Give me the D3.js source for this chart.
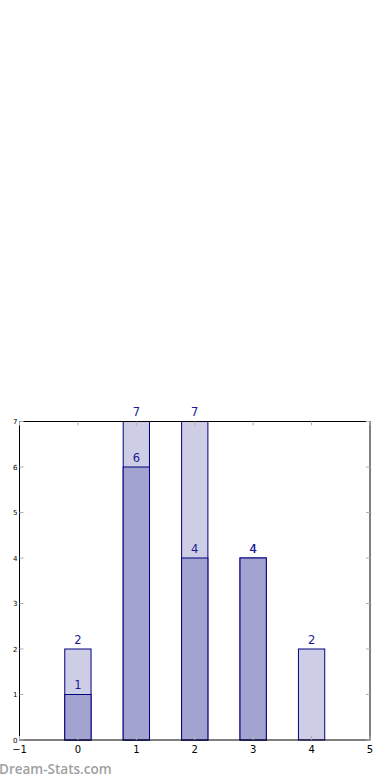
<!DOCTYPE html>
<html>
<head>
<meta charset="utf-8">
<script src="https://cdn.jsdelivr.net/npm/d3@7"></script>
<style>
  body { margin: 0; background: #fff; }
  svg { display: block; font-family: "DejaVu Sans", sans-serif; }
</style>
</head>
<body>
<svg id="chart" width="390" height="780"></svg>
<script>
// data
const categories = [0, 1, 2, 3, 4];
const totals = [2, 7, 7, 4, 2];
const subset = [1, 6, 4, 4, 0];
const xTicks = [-1, 0, 1, 2, 3, 4, 5];
const yTicks = [0, 1, 2, 3, 4, 5, 6, 7];

const svg = d3.select('#chart');
const margin = { left: 19.5, right: 20, top: 421.5, bottom: 40 };
const width = 390, height = 780;

const x = d3.scaleLinear().domain([-1, 5]).range([margin.left, width - margin.right]);
const y = d3.scaleLinear().domain([0, 7]).range([height - margin.bottom, margin.top]);
const barW = x(0.45) - x(0);

const g = svg.append('g');

// light bars (totals)
g.selectAll('.bar-total')
  .data(categories)
  .enter()
  .append('rect')
  .attr('class', 'bar-total')
  .attr('x', (d) => x(d) - barW / 2)
  .attr('y', (d, i) => y(totals[i]))
  .attr('width', barW)
  .attr('height', (d, i) => y(0) - y(totals[i]))
  .attr('fill', '#cdcde5')
  .attr('stroke', '#000080')
  .attr('stroke-width', 1);

// dark bars (subset)
g.selectAll('.bar-sub')
  .data(categories.filter((d, i) => subset[i] > 0))
  .enter()
  .append('rect')
  .attr('class', 'bar-sub')
  .attr('x', (d) => x(d) - barW / 2)
  .attr('y', (d) => y(subset[d]))
  .attr('width', barW)
  .attr('height', (d) => y(0) - y(subset[d]))
  .attr('fill', '#a3a3d2')
  .attr('stroke', '#000080')
  .attr('stroke-width', 1);

// value labels
const labels = [];
categories.forEach((c, i) => {
  labels.push({ c: c, v: totals[i] });
  if (subset[i] > 0) labels.push({ c: c, v: subset[i] });
});
g.selectAll('.val')
  .data(labels)
  .enter()
  .append('text')
  .attr('class', 'val')
  .attr('x', (d) => x(d.c))
  .attr('y', (d) => y(d.v) - 5.5)
  .attr('text-anchor', 'middle')
  .attr('font-size', 11.5)
  .attr('fill', '#1a1a99')
  .text((d) => d.v);

// axes frame
g.append('rect')
  .attr('x', x(-1))
  .attr('y', y(7))
  .attr('width', x(5) - x(-1))
  .attr('height', y(0) - y(7))
  .attr('fill', 'none')
  .attr('stroke', '#000')
  .attr('stroke-width', 1);

// ticks (inside, on all sides)
const tickCol = '#b0b0b0';
g.selectAll('.xt-b').data(xTicks).enter().append('line')
  .attr('x1', (d) => x(d)).attr('x2', (d) => x(d))
  .attr('y1', y(0)).attr('y2', y(0) - 4)
  .attr('stroke', tickCol);
g.selectAll('.xt-t').data(xTicks).enter().append('line')
  .attr('x1', (d) => x(d)).attr('x2', (d) => x(d))
  .attr('y1', y(7)).attr('y2', y(7) + 4)
  .attr('stroke', tickCol);
g.selectAll('.yt-l').data(yTicks).enter().append('line')
  .attr('x1', x(-1)).attr('x2', x(-1) + 4)
  .attr('y1', (d) => y(d)).attr('y2', (d) => y(d))
  .attr('stroke', tickCol);
g.selectAll('.yt-r').data(yTicks).enter().append('line')
  .attr('x1', x(5)).attr('x2', x(5) - 4)
  .attr('y1', (d) => y(d)).attr('y2', (d) => y(d))
  .attr('stroke', tickCol);

// tick labels
g.selectAll('.xl').data(xTicks).enter().append('text')
  .attr('x', (d) => x(d))
  .attr('y', y(0) + 13)
  .attr('text-anchor', 'middle')
  .attr('font-size', 10)
  .attr('fill', '#000')
  .text((d) => d < 0 ? '\u2212' + Math.abs(d) : d);
g.selectAll('.yl').data(yTicks).enter().append('text')
  .attr('x', x(-1) - 2)
  .attr('y', (d) => y(d) + 2.5)
  .attr('text-anchor', 'end')
  .attr('font-size', 7)
  .attr('fill', '#000')
  .text((d) => d);

// watermark
svg.append('text')
  .attr('x', -1)
  .attr('y', 774)
  .attr('font-family', '"Open Sans", sans-serif')
  .attr('font-size', 13.5)
  .attr('font-weight', 600)
  .attr('fill', '#a0a0a0')
  .text('Dream-Stats.com');
</script>
</body>
</html>
